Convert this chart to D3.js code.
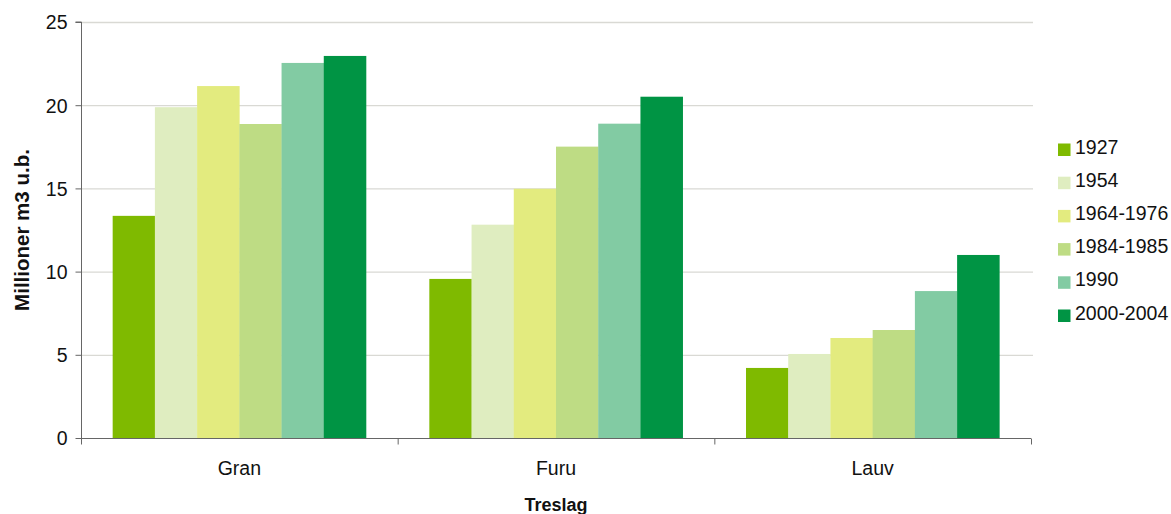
<!DOCTYPE html>
<html><head><meta charset="utf-8">
<script src="https://cdn.jsdelivr.net/npm/d3@7"></script>
<style>body{margin:0;background:#fff}svg{display:block;font-family:"Liberation Sans",Arial,sans-serif}</style>
</head><body>
<svg id="c" width="1171" height="514"></svg>
<script>
const categories = ["Gran", "Furu", "Lauv"];
const seriesNames = ["1927", "1954", "1964-1976", "1984-1985", "1990", "2000-2004"];
const s1927 = [13.35, 9.56, 4.21];
const s1954 = [19.88, 12.82, 5.05];
const s1964 = [21.15, 14.98, 6.01];
const s1984 = [18.87, 17.51, 6.49];
const s1990 = [22.54, 18.89, 8.83];
const s2000 = [22.96, 20.51, 11.0];
const yTicks = [0, 5, 10, 15, 20, 25];
const colors = ["#7fba00", "#dfedc0", "#e3eb7f", "#bedc84", "#82cba3", "#009444"];
const seriesValues = [s1927, s1954, s1964, s1984, s1990, s2000];

const svg = d3.select("#c");
const m = {l: 81, r: 1031, t: 22, b: 438};
const x0 = d3.scaleBand().domain(categories).range([m.l, m.r]).paddingInner(0).paddingOuter(0);
const x1 = d3.scaleBand().domain(seriesNames).range([0, x0.bandwidth()]).paddingInner(0).paddingOuter(0.75);
const y = d3.scaleLinear().domain([0, 25]).range([m.b, m.t]);
const FS = 19.5;

// gridlines
svg.append("g").selectAll("line").data(yTicks.filter(d => d > 0)).join("line")
  .attr("x1", m.l).attr("x2", m.r + 2)
  .attr("y1", d => y(d) + 0.5).attr("y2", d => y(d) + 0.5)
  .attr("stroke", "#d9d9d4").attr("stroke-width", 1.3);

// bars
const g = svg.append("g");
seriesNames.forEach((s, si) => {
  g.selectAll(null).data(seriesValues[si]).join("rect")
    .attr("x", (d, i) => x0(categories[i]) + x1(s))
    .attr("width", x1.bandwidth() + 0.3)
    .attr("y", d => y(d))
    .attr("height", d => y(0) - y(d))
    .attr("fill", colors[si]);
});

// y axis
const ya = svg.append("g").attr("transform", `translate(${m.l + 0.5},0)`)
  .call(d3.axisLeft(y).tickValues(yTicks).tickSize(6).tickPadding(8).tickFormat(d3.format("d")));
ya.select(".domain").attr("stroke", "#666").attr("d", `M-6,${y(25)}H0V${m.b}`);
ya.selectAll(".tick line").attr("stroke", "#666");
ya.selectAll(".tick text").attr("font-size", FS).attr("fill", "#111")
  .attr("font-family", "Liberation Sans, Arial, sans-serif").attr("dy", "0.35em");

// x axis
const xa = svg.append("g").attr("transform", `translate(0,${m.b + 0.5})`);
xa.append("line").attr("x1", m.l).attr("x2", m.r).attr("y1", 0).attr("y2", 0).attr("stroke", "#666");
const seps = categories.map(c => x0(c)).concat([m.r]);
xa.selectAll("line.sep").data(seps).join("line").attr("class", "sep")
  .attr("x1", d => d + 0.5).attr("x2", d => d + 0.5).attr("y1", 0).attr("y2", 6).attr("stroke", "#666");
xa.selectAll("text").data(categories).join("text")
  .attr("x", d => x0(d) + x0.bandwidth() / 2).attr("y", 36.5)
  .attr("text-anchor", "middle").attr("font-size", FS).attr("fill", "#111").text(d => d);

// axis titles
svg.append("text").attr("x", (m.l + m.r) / 2).attr("y", 511).attr("text-anchor", "middle")
  .attr("font-size", 18).attr("font-weight", "bold").attr("fill", "#111").text("Treslag");
svg.append("text").attr("transform", `translate(29,${(m.t + m.b) / 2}) rotate(-90)`)
  .attr("text-anchor", "middle").attr("font-size", 20.5).attr("font-weight", "bold").attr("fill", "#111")
  .text("Millioner m3 u.b.");

// legend
const lg = svg.append("g").selectAll("g").data(seriesNames).join("g")
  .attr("transform", (d, i) => `translate(1058,${143.5 + i * 33.2})`);
lg.append("rect").attr("width", 12.5).attr("height", 12.5).attr("fill", (d, i) => colors[i]);
lg.append("text").attr("x", 17).attr("y", 10).attr("font-size", FS).attr("fill", "#111").text(d => d);
</script>
</body></html>
